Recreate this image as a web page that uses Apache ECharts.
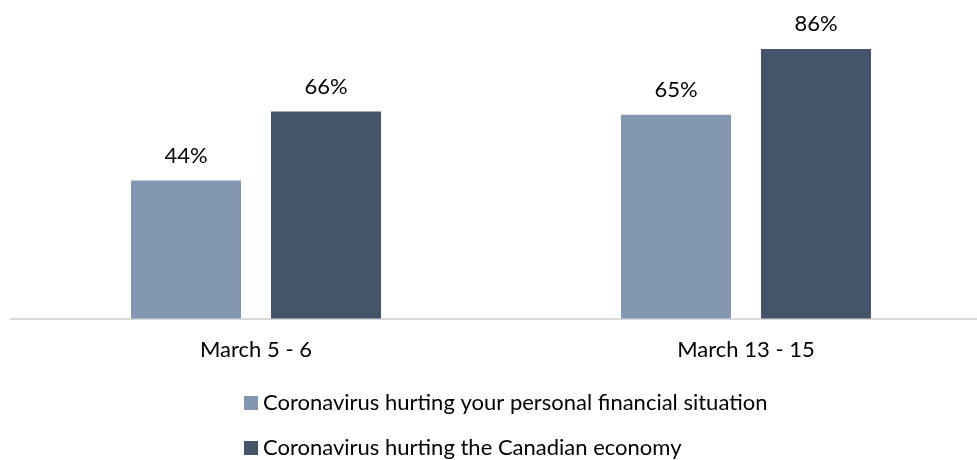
<!DOCTYPE html>
<html>
<head>
<meta charset="utf-8">
<script src="https://cdn.jsdelivr.net/npm/echarts@6/dist/echarts.min.js"></script>
<style>html,body{margin:0;padding:0;background:#fff;overflow:hidden;}#c{width:991px;height:460px;}</style>
</head>
<body>
<div id="c"></div>
<script>
var categories = ['March 5 - 6', 'March 13 - 15'];
var seriesNames = ['Coronavirus hurting your personal financial situation', 'Coronavirus hurting the Canadian economy'];
var personalValues = [44, 65];
var economyValues = [66, 86];

var chart = echarts.init(document.getElementById('c'));
var FONT = 'Lato';
var FS = 22;
var labelCfg = {
  show: true, position: 'top', distance: 14,
  formatter: '{c}%', color: '#000', fontSize: FS, fontFamily: FONT
};
function legendAt(top, name) {
  return {
    orient: 'vertical', left: 239, top: top,
    itemWidth: 14, itemHeight: 14,
    textStyle: { color: '#000', fontSize: FS, fontFamily: FONT, lineHeight: 22 },
    icon: 'rect',
    data: [name]
  };
}
chart.setOption({
  animation: false,
  grid: { left: 11, top: 5, right: 0, bottom: 141.5, containLabel: false },
  legend: [legendAt(387, seriesNames[0]), legendAt(432, seriesNames[1])],
  xAxis: {
    type: 'category', data: categories,
    axisLine: { lineStyle: { color: '#d9d9d9', width: 2 } },
    axisTick: { show: false },
    axisLabel: { color: '#000', fontSize: FS, fontFamily: FONT, margin: 20 }
  },
  yAxis: { type: 'value', min: 0, max: 100, show: false, splitLine: { show: false } },
  series: [
    { name: seriesNames[0], type: 'bar', data: personalValues, barWidth: 110, barGap: '27.27%',
      itemStyle: { color: '#8497B0' }, label: labelCfg },
    { name: seriesNames[1], type: 'bar', data: economyValues, barWidth: 110, barGap: '27.27%',
      itemStyle: { color: '#44546A' }, label: labelCfg }
  ]
});
</script>
</body>
</html>
